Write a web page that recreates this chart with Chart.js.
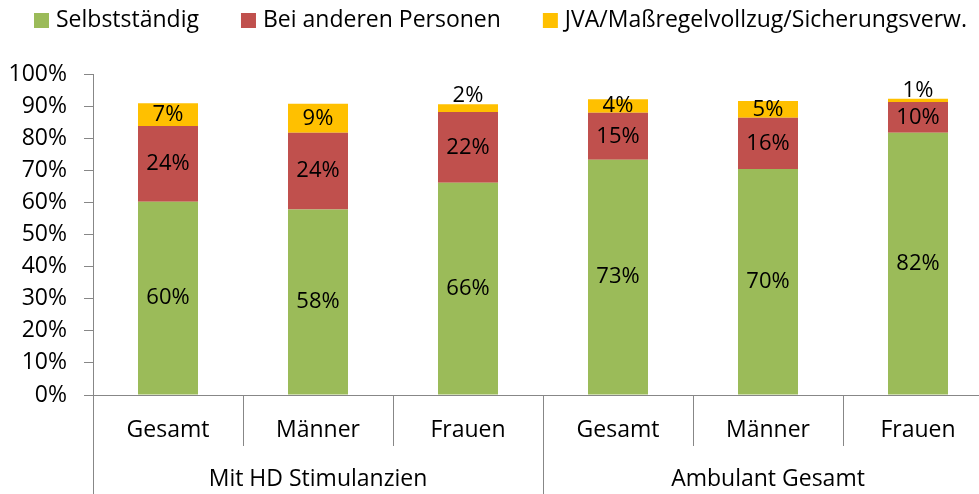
<!DOCTYPE html>
<html>
<head>
<meta charset="utf-8">
<script src="https://cdn.jsdelivr.net/npm/chart.js@4"></script>
<style>
  html, body { margin: 0; padding: 0; background: #fff; overflow: hidden; }
  #wrap { width: 993px; height: 494px; }
</style>
</head>
<body>
<div id="wrap"><canvas id="chart"></canvas></div>
<script>
// Daten
const groups = ['Mit HD Stimulanzien', 'Ambulant Gesamt'];
const categories = ['Gesamt', 'Männer', 'Frauen', 'Gesamt', 'Männer', 'Frauen'];
const seriesNames = ['Selbstständig', 'Bei anderen Personen', 'JVA/Maßregelvollzug/Sicherungsverw.'];
const selbststaendig = [60.2, 57.8, 66.1, 73.3, 70.4, 81.7];
const beiAnderen = [23.6, 23.9, 22.1, 14.6, 16.0, 9.6];
const jva = [7.1, 9.0, 2.4, 4.2, 5.2, 1.0];
const yTicks = [0, 10, 20, 30, 40, 50, 60, 70, 80, 90, 100];

const colors = ['#9BBB59', '#C0504D', '#FFC000'];
const axisColor = '#878787';
const FONT = "'Open Sans', sans-serif";

// Beschriftungen in den Balken
const barLabels = {
  id: 'barLabels',
  afterDatasetsDraw(chart) {
    const ctx = chart.ctx;
    ctx.save();
    ctx.font = '22px ' + FONT;
    ctx.fillStyle = '#000';
    ctx.textAlign = 'center';
    ctx.textBaseline = 'middle';
    chart.data.datasets.forEach((ds, di) => {
      const meta = chart.getDatasetMeta(di);
      meta.data.forEach((bar, i) => {
        const v = ds.data[i];
        let y = (bar.y + bar.base) / 2;
        if (v < 3) y = bar.y - 8;
        ctx.fillText(Math.round(v) + '%', bar.x, y);
      });
    });
    ctx.restore();
  }
};

// Zweistufige x-Achse
const groupAxis = {
  id: 'groupAxis',
  afterDraw(chart) {
    const ctx = chart.ctx;
    const x = chart.scales.x;
    const area = chart.chartArea;
    const bottom = chart.height;
    const n = categories.length;
    const half = (x.getPixelForValue(1) - x.getPixelForValue(0)) / 2;
    ctx.save();
    ctx.strokeStyle = axisColor;
    ctx.lineWidth = 1;
    for (let i = 0; i <= n; i++) {
      const px = Math.round(x.getPixelForValue(i) - half) + 0.5;
      const isGroup = i % 3 === 0;
      ctx.beginPath();
      ctx.moveTo(px, area.bottom);
      ctx.lineTo(px, isGroup ? bottom : area.bottom + 51);
      ctx.stroke();
    }
    ctx.font = '23px ' + FONT;
    ctx.fillStyle = '#000';
    ctx.textAlign = 'center';
    ctx.textBaseline = 'middle';
    categories.forEach((c, i) => {
      ctx.fillText(c, x.getPixelForValue(i), area.bottom + 35);
    });
    groups.forEach((g, gi) => {
      const cx = (x.getPixelForValue(gi * 3) + x.getPixelForValue(gi * 3 + 2)) / 2;
      ctx.fillText(g, cx, area.bottom + 84);
    });
    ctx.restore();
  }
};

// Legende oben
const topLegend = {
  id: 'topLegend',
  afterDraw(chart) {
    const ctx = chart.ctx;
    ctx.save();
    ctx.font = '23px ' + FONT;
    ctx.textBaseline = 'middle';
    let lx = 34;
    const cy = 20;
    seriesNames.forEach((name, i) => {
      ctx.fillStyle = colors[i];
      ctx.fillRect(lx, cy - 7, 15, 15);
      ctx.fillStyle = '#000';
      ctx.fillText(name, lx + 22, cy);
      lx += 22 + ctx.measureText(name).width + 42;
    });
    ctx.restore();
  }
};

new Chart(document.getElementById('chart'), {
  type: 'bar',
  data: {
    labels: categories,
    datasets: [
      { label: seriesNames[0], data: selbststaendig, backgroundColor: colors[0] },
      { label: seriesNames[1], data: beiAnderen, backgroundColor: colors[1] },
      { label: seriesNames[2], data: jva, backgroundColor: colors[2] }
    ]
  },
  options: {
    responsive: true,
    maintainAspectRatio: false,
    animation: false,
    layout: { padding: { top: 74, left: 10, right: 0, bottom: 91 } },
    datasets: { bar: { categoryPercentage: 1, barPercentage: 0.4 } },
    plugins: {
      legend: { display: false },
      tooltip: { enabled: false }
    },
    scales: {
      x: {
        stacked: true,
        grid: { display: false },
        border: { color: axisColor, width: 1 },
        ticks: { display: false }
      },
      y: {
        stacked: true,
        min: 0,
        max: 100,
        afterBuildTicks: (axis) => { axis.ticks = yTicks.map(v => ({ value: v })); },
        afterFit: (axis) => { axis.width = 83; },
        grid: { drawOnChartArea: false, tickLength: 9, color: axisColor },
        border: { color: axisColor, width: 1 },
        ticks: {
          padding: 17,
          color: '#000',
          font: { family: FONT, size: 23 },
          callback: (v) => v + '%'
        }
      }
    }
  },
  plugins: [barLabels, groupAxis, topLegend]
});
</script>
</body>
</html>
